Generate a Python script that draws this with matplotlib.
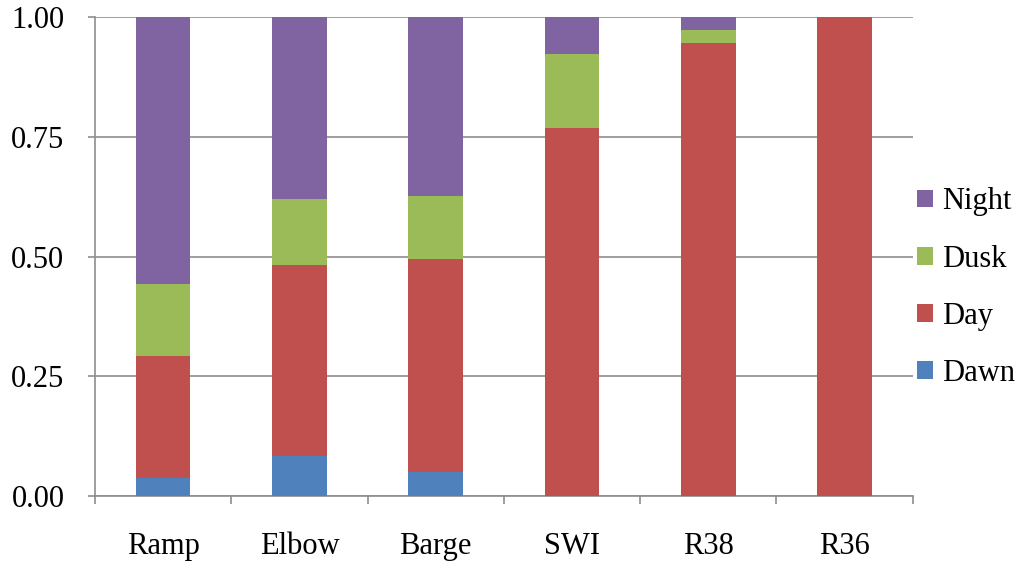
import matplotlib
matplotlib.use("Agg")
import matplotlib.pyplot as plt
from matplotlib.patches import Patch
import numpy as np

sites = ["Ramp", "Elbow", "Barge", "SWI", "R38", "R36"]
dawn = [0.038, 0.084, 0.049, 0.0, 0.0, 0.0]
day = [0.254, 0.399, 0.446, 0.768, 0.946, 1.0]
dusk = [0.151, 0.137, 0.131, 0.155, 0.027, 0.0]
night = [0.557, 0.380, 0.374, 0.077, 0.027, 0.0]

series = [("Dawn", dawn, "#4f81bd"), ("Day", day, "#c0504d"),
          ("Dusk", dusk, "#9bbb59"), ("Night", night, "#8064a2")]

plt.rcParams["font.family"] = ["Liberation Serif", "DejaVu Serif"]
FS = 22

fig = plt.figure(figsize=(10.21, 5.62), dpi=100)
ax = fig.add_axes([0.093, 0.118, 0.801, 0.851])

x = np.arange(len(sites))
bottom = np.zeros(len(sites))
for name, vals, color in series:
    vals = np.array(vals)
    ax.bar(x, vals, width=0.4, bottom=bottom, color=color, label=name,
           zorder=3, edgecolor="none")
    bottom += vals

ax.set_xlim(-0.5, len(sites) - 0.5)
ax.set_ylim(0, 1.0)
ax.set_yticks([0, 0.25, 0.5, 0.75, 1.0])
ax.set_yticklabels(["0.00", "0.25", "0.50", "0.75", "1.00"], fontsize=FS)
ax.yaxis.grid(True, color="#8e8e8e", linewidth=1.2, zorder=0)
ax.set_axisbelow(True)

ax.set_xticks(x)
ax.set_xticklabels(sites, fontsize=FS)
ax.set_xticks(np.arange(-0.5, len(sites), 1.0), minor=True)
ax.tick_params(axis="x", which="major", length=0, pad=26)
ax.tick_params(axis="x", which="minor", length=6, width=1.2, color="#8e8e8e")
ax.tick_params(axis="y", length=5, width=1.2, color="#8e8e8e", pad=17)

for s in ["top", "right"]:
    ax.spines[s].set_visible(False)
for s in ["left", "bottom"]:
    ax.spines[s].set_color("#8e8e8e")
    ax.spines[s].set_linewidth(1.2)

handles = [Patch(facecolor=c, label=n) for n, _, c in reversed(series)]
fig.legend(handles=handles, loc="center left", bbox_to_anchor=(0.898, 0.488),
           frameon=False, fontsize=FS, handlelength=0.52, handleheight=0.52,
           handletextpad=0.3, labelspacing=0.925, borderpad=0, borderaxespad=0)

fig.savefig("out.png", dpi=100)
